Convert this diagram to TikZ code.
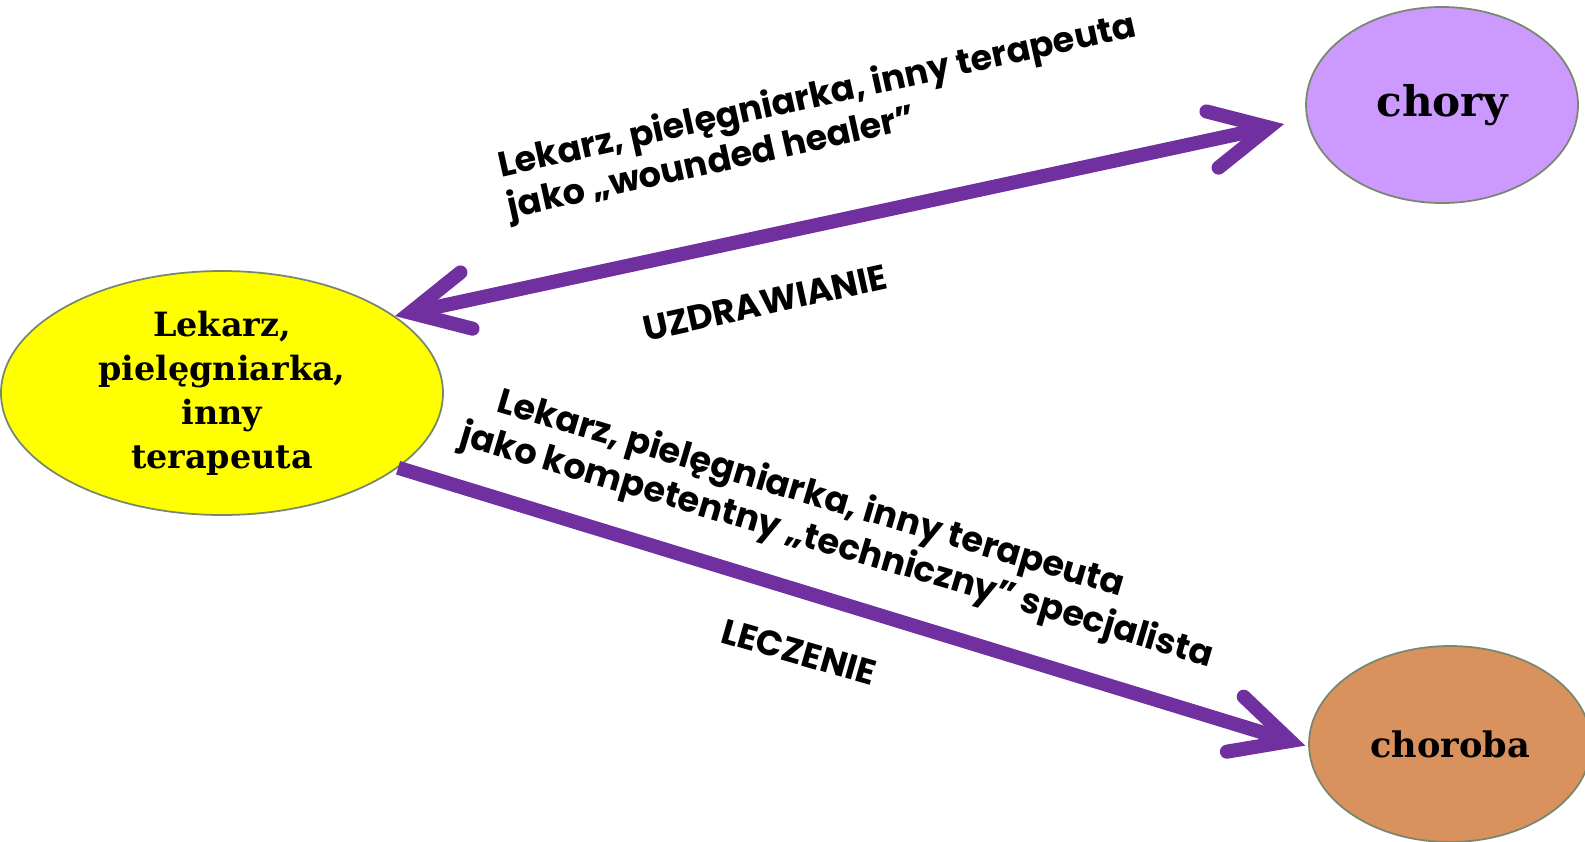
\documentclass[tikz,border=0pt]{standalone}
\usepackage{fontspec}
\setmainfont{DejaVu Serif}
\setsansfont{Poppins}
\definecolor{ellyellow}{RGB}{255,255,0}
\definecolor{ellviolet}{RGB}{204,153,255}
\definecolor{ellbrown}{RGB}{217,145,94}
\definecolor{ellgray}{RGB}{120,135,110}
\definecolor{arrpurple}{RGB}{112,48,160}
\usetikzlibrary{arrows.meta,positioning,shapes.geometric}

\begin{document}
\begin{tikzpicture}[
    ellbox/.style={ellipse, draw=ellgray, line width=1pt, inner sep=0pt,
                   align=center, font=\bfseries\fontsize{19}{25}\selectfont},
    arr/.style={line width=8pt, draw=arrpurple},
    lbl/.style={font=\sffamily\bfseries\fontsize{20}{24}\selectfont, align=left},
    >={Straight Barb[length=1.15cm, width=1.15cm, line cap=round, line join=miter]}
  ]
    \useasboundingbox (0,0) rectangle (31.7,-16.82);
    \clip (0,0) rectangle (31.7,-16.82);

    % Ellipses
    \node[ellbox, fill=ellyellow, minimum width=8.84cm, minimum height=4.88cm] (lek) at (4.44,-7.86)
      {Lekarz,\\piel\k{e}gniarka,\\inny\\terapeuta};
    \node[ellbox, fill=ellviolet, minimum width=5.44cm, minimum height=3.92cm,
          font=\bfseries\fontsize{24}{28}\selectfont] (chory) at (28.84,-2.10) {chory};
    \node[ellbox, fill=ellbrown, minimum width=5.64cm, minimum height=3.92cm,
          font=\bfseries\fontsize{20}{24}\selectfont] (choroba) at (29.0,-14.88) {choroba};

    % Uzdrawianie
    \draw[arr, <->, shorten >=0.46cm] (lek.24) -- (chory.186);
    \node[lbl, rotate=12.5] (heal) at (16.44,-2.36)
      {Lekarz, pielęgniarka, inny terapeuta\\jako „wounded healer”};
    \node[lbl, rotate=12.5] (uzdr) at (15.3,-6.06) {UZDRAWIANIE};

    % Leczenie
    \draw[arr, ->, shorten >=0.06cm] (lek.-23) -- (choroba.181);
    \node[lbl, rotate=-16.5] (tech) at (16.85,-10.53)
      {\hspace*{0.75em}Lekarz, pielęgniarka, inny terapeuta\\jako kompetentny „techniczny” specjalista};
    \node[lbl, rotate=-16] (lecz) at (15.98,-13.04) {LECZENIE};
\end{tikzpicture}
\end{document}
